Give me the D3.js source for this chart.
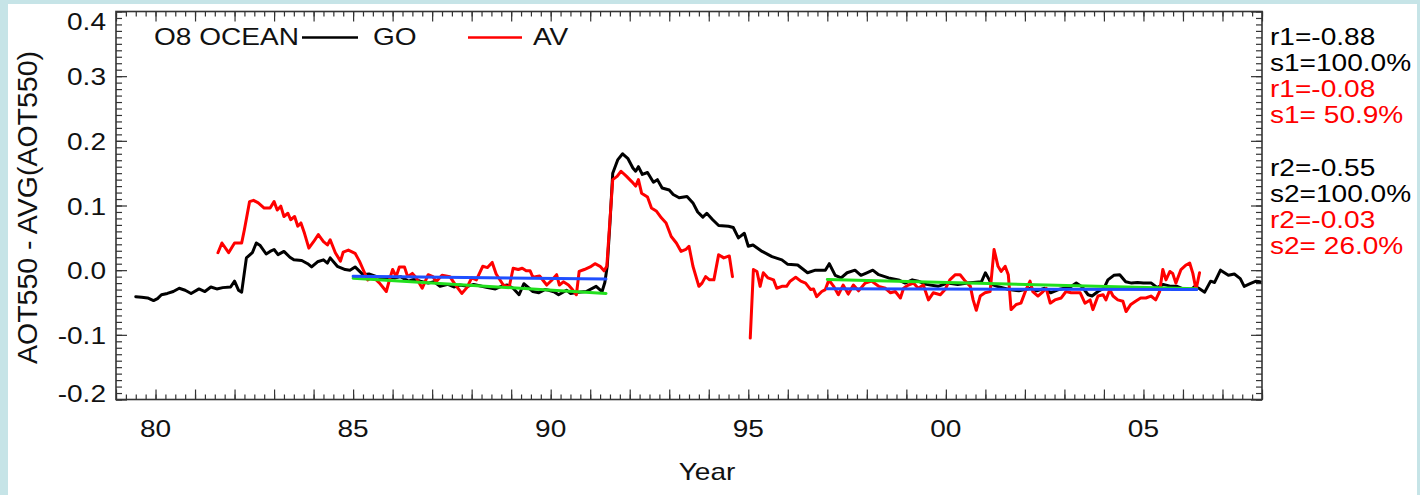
<!DOCTYPE html>
<html>
<head>
<meta charset="utf-8">
<script src="https://cdn.jsdelivr.net/npm/d3@7"></script>
<style>
  html, body { margin: 0; padding: 0; background: #c6e4e7; }
  svg { display: block; }
  text { font-family: "Liberation Sans", Arial, Helvetica, sans-serif; white-space: pre; }
</style>
</head>
<body>
<svg id="chart" width="1420" height="495"></svg>
<script>
// ---------------- DATA ----------------
const goYears = [1979.50,1979.65,1979.80,1979.95,1980.05,1980.15,1980.30,1980.45,1980.60,1980.75,1980.90,1981.10,1981.25,1981.40,1981.55,1981.70,1981.90,1982.00,1982.10,1982.18,1982.30,1982.45,1982.55,1982.65,1982.80,1982.90,1983.00,1983.10,1983.25,1983.40,1983.50,1983.70,1983.85,1983.95,1984.10,1984.25,1984.35,1984.42,1984.60,1984.80,1984.92,1985.05,1985.25,1985.40,1985.60,1985.75,1985.90,1986.05,1986.20,1986.40,1986.55,1986.70,1986.90,1987.05,1987.20,1987.40,1987.55,1987.70,1987.90,1988.05,1988.20,1988.40,1988.60,1988.75,1988.90,1989.05,1989.20,1989.32,1989.55,1989.70,1989.85,1989.95,1990.10,1990.20,1990.40,1990.50,1990.70,1990.90,1991.15,1991.30,1991.37,1991.43,1991.50,1991.57,1991.70,1991.82,1991.95,1992.08,1992.15,1992.22,1992.32,1992.45,1992.60,1992.70,1992.82,1993.00,1993.10,1993.25,1993.45,1993.60,1993.72,1993.85,1993.95,1994.10,1994.25,1994.50,1994.62,1994.75,1994.90,1995.00,1995.12,1995.35,1995.60,1995.85,1996.00,1996.25,1996.50,1996.70,1996.95,1997.05,1997.20,1997.35,1997.50,1997.70,1997.85,1998.00,1998.15,1998.30,1998.55,1998.80,1998.97,1999.15,1999.30,1999.50,1999.80,2000.05,2000.30,2000.55,2000.90,2001.00,2001.10,2001.15,2001.30,2001.60,2001.85,2002.00,2002.15,2002.30,2002.50,2002.65,2002.85,2003.00,2003.15,2003.30,2003.45,2003.60,2003.70,2003.85,2004.00,2004.10,2004.25,2004.40,2004.55,2004.70,2004.85,2005.00,2005.20,2005.35,2005.50,2005.70,2005.85,2006.05,2006.20,2006.30,2006.40,2006.55,2006.70,2006.80,2006.95,2007.15,2007.30,2007.45,2007.55,2007.70,2007.85,2007.95];
const goValues = [-0.041,-0.042,-0.043,-0.047,-0.044,-0.038,-0.036,-0.033,-0.028,-0.031,-0.036,-0.029,-0.033,-0.026,-0.029,-0.027,-0.026,-0.017,-0.031,-0.034,0.019,0.027,0.042,0.038,0.025,0.029,0.032,0.024,0.029,0.020,0.016,0.015,0.010,0.005,0.013,0.016,0.011,0.019,0.006,0.001,0.000,0.005,-0.007,-0.006,-0.010,-0.013,-0.011,-0.012,-0.010,-0.017,-0.014,-0.017,-0.020,-0.018,-0.025,-0.022,-0.026,-0.023,-0.025,-0.022,-0.024,-0.027,-0.029,-0.025,-0.023,-0.028,-0.038,-0.021,-0.033,-0.035,-0.030,-0.031,-0.034,-0.038,-0.031,-0.036,-0.034,-0.033,-0.025,-0.033,-0.019,0.006,0.073,0.150,0.171,0.180,0.173,0.158,0.153,0.160,0.148,0.151,0.136,0.140,0.127,0.124,0.117,0.112,0.114,0.104,0.090,0.082,0.088,0.078,0.069,0.068,0.066,0.050,0.057,0.037,0.039,0.029,0.021,0.016,0.009,0.008,-0.004,0.000,0.000,0.010,-0.008,-0.012,-0.004,0.000,-0.008,-0.004,0.000,-0.007,-0.012,-0.015,-0.020,-0.015,-0.017,-0.022,-0.025,-0.020,-0.022,-0.020,-0.018,-0.004,-0.015,-0.022,-0.025,-0.030,-0.032,-0.030,-0.028,-0.032,-0.028,-0.035,-0.030,-0.028,-0.026,-0.020,-0.026,-0.038,-0.040,-0.033,-0.028,-0.015,-0.008,-0.007,-0.018,-0.020,-0.019,-0.020,-0.020,-0.027,-0.022,-0.025,-0.025,-0.030,-0.030,-0.025,-0.028,-0.034,-0.017,-0.019,0.000,-0.008,-0.006,-0.013,-0.025,-0.021,-0.017,-0.018];

const avYears1 = [1981.58,1981.68,1981.85,1982.00,1982.18,1982.25,1982.38,1982.48,1982.60,1982.75,1982.90,1983.00,1983.08,1983.17,1983.25,1983.35,1983.42,1983.52,1983.60,1983.68,1983.77,1983.88,1984.00,1984.12,1984.25,1984.35,1984.42,1984.55,1984.68,1984.75,1984.88,1985.05,1985.16,1985.29,1985.37,1985.50,1985.67,1985.84,1985.92,1986.00,1986.09,1986.17,1986.30,1986.38,1986.50,1986.60,1986.75,1986.90,1987.02,1987.10,1987.25,1987.45,1987.58,1987.75,1987.88,1988.00,1988.12,1988.28,1988.40,1988.52,1988.62,1988.80,1988.95,1989.05,1989.18,1989.28,1989.38,1989.48,1989.55,1989.72,1989.90,1990.02,1990.15,1990.22,1990.32,1990.45,1990.55,1990.65,1990.72,1990.85,1991.00,1991.12,1991.25,1991.35,1991.42,1991.50,1991.57,1991.68,1991.78,1991.92,1992.05,1992.15,1992.22,1992.30,1992.45,1992.55,1992.68,1992.80,1992.92,1993.05,1993.18,1993.30,1993.42,1993.50,1993.60,1993.75,1993.83,1993.92,1994.02,1994.13,1994.25,1994.38,1994.52,1994.60];
const avValues1 = [0.027,0.042,0.027,0.042,0.042,0.063,0.106,0.108,0.104,0.096,0.096,0.106,0.093,0.099,0.083,0.088,0.078,0.083,0.068,0.073,0.057,0.034,0.044,0.055,0.044,0.039,0.047,0.027,0.014,0.028,0.031,0.026,0.014,-0.004,-0.015,-0.010,-0.020,-0.033,-0.015,0.001,-0.010,0.005,0.005,-0.010,-0.005,-0.012,-0.028,-0.007,-0.010,-0.018,-0.008,-0.010,-0.022,-0.036,-0.027,-0.012,-0.015,0.006,0.004,0.012,-0.006,-0.023,-0.026,0.003,0.001,0.003,-0.001,-0.001,-0.011,-0.009,-0.023,-0.016,-0.007,-0.023,-0.018,-0.023,-0.030,-0.038,-0.002,0.001,0.005,0.010,0.006,-0.001,0.006,0.078,0.140,0.145,0.153,0.145,0.137,0.130,0.140,0.119,0.113,0.096,0.091,0.081,0.073,0.052,0.042,0.029,0.032,0.037,0.006,-0.025,-0.020,-0.010,-0.015,-0.015,0.024,0.019,0.022,-0.010];

const avYears2 = [1995.05,1995.13,1995.22,1995.30,1995.38,1995.50,1995.64,1995.72,1995.85,1995.97,1996.06,1996.20,1996.33,1996.45,1996.58,1996.65,1996.73,1996.86,1996.95,1997.04,1997.16,1997.28,1997.40,1997.53,1997.66,1997.79,1997.96,1998.12,1998.30,1998.47,1998.60,1998.72,1998.85,1998.93,1999.05,1999.18,1999.30,1999.43,1999.56,1999.68,1999.86,1999.98,2000.10,2000.24,2000.36,2000.49,2000.62,2000.69,2000.77,2000.87,2000.99,2001.12,2001.22,2001.32,2001.40,2001.50,2001.58,2001.65,2001.78,2001.90,2002.03,2002.13,2002.20,2002.33,2002.46,2002.54,2002.64,2002.76,2002.92,2003.04,2003.17,2003.30,2003.40,2003.52,2003.65,2003.72,2003.85,2003.98,2004.05,2004.15,2004.23,2004.35,2004.48,2004.56,2004.68,2004.80,2004.93,2005.06,2005.19,2005.31,2005.41,2005.49,2005.57,2005.67,2005.74,2005.82,2005.95,2006.08,2006.17,2006.25,2006.33,2006.42];
const avValues2 = [-0.105,0.001,-0.002,-0.025,-0.004,-0.012,-0.015,-0.028,-0.025,-0.025,-0.017,-0.011,-0.017,-0.020,-0.030,-0.029,-0.041,-0.033,-0.030,-0.015,-0.025,-0.038,-0.023,-0.037,-0.023,-0.032,-0.020,-0.017,-0.025,-0.028,-0.035,-0.033,-0.043,-0.028,-0.023,-0.020,-0.028,-0.023,-0.046,-0.035,-0.038,-0.030,-0.015,-0.007,-0.007,-0.017,-0.025,-0.046,-0.062,-0.040,-0.035,-0.033,0.032,0.006,-0.002,0.006,-0.007,-0.061,-0.053,-0.051,-0.030,-0.017,-0.033,-0.040,-0.033,-0.028,-0.051,-0.046,-0.043,-0.033,-0.035,-0.035,-0.035,-0.051,-0.046,-0.061,-0.040,-0.038,-0.046,-0.030,-0.040,-0.046,-0.048,-0.064,-0.053,-0.048,-0.043,-0.043,-0.040,-0.046,-0.033,0.001,-0.015,-0.002,-0.005,-0.020,0.001,0.008,0.011,-0.005,-0.030,-0.004];

const trendYears1 = [1985.0, 1991.4];
const greenTrend1 = [-0.0125, -0.036];
const blueTrend1  = [-0.0095, -0.0135];
const trendYears2 = [1997.0, 2006.35];
const greenTrend2 = [-0.0145, -0.0288];
const blueTrend2  = [-0.0288, -0.0300];

const xTickYears  = [1980, 1985, 1990, 1995, 2000, 2005];
const xTickLabels = ["80", "85", "90", "95", "00", "05"];
const yTickValues = [-0.2, -0.1, 0.0, 0.1, 0.2, 0.3, 0.4];
const yTickLabels = ["-0.2", "-0.1", "0.0", "0.1", "0.2", "0.3", "0.4"];

const legendTitle = "O8 OCEAN";
const seriesNames = ["GO", "AV"];
const statsLines1 = ["r1=-0.88", "s1=100.0%", "r1=-0.08", "s1= 50.9%"];
const statsLines2 = ["r2=-0.55", "s2=100.0%", "r2=-0.03", "s2= 26.0%"];
const statsColors = ["#000", "#000", "#ff0000", "#ff0000"];

// ---------------- DRAWING ----------------
const SX = 1.22;          // horizontal glyph stretch of the original
const FS = 23;
const svg = d3.select("#chart");

svg.append("rect").attr("x", 0).attr("y", 0).attr("width", 1420).attr("height", 495).attr("fill", "#c6e4e7");
svg.append("rect").attr("x", 8).attr("y", 4).attr("width", 1409).attr("height", 491).attr("fill", "#ffffff");

const L = 116, R = 1262, T = 11.5, B = 399.5;
const x = d3.scaleLinear().domain([1979, 2008]).range([L, R]);
const y = d3.scaleLinear().domain([-0.2, 0.4]).range([B, T]);

function txt(px, py, s, anchor, color, size) {
  return svg.append("text")
    .attr("transform", `translate(${px},${py}) scale(${SX},1)`)
    .attr("text-anchor", anchor || "start")
    .attr("fill", color || "#111")
    .attr("font-size", size || FS)
    .text(s);
}

// ticks
const xMinor = d3.range(0, 117).map(i => 1979 + i * 0.25);
const xMajor = d3.range(1979, 2009);
const yMinor = d3.range(0, 61).map(i => -0.2 + i * 0.01);
const yMajor = yTickValues;

function styleAxis(g) {
  g.select(".domain").remove();
  g.selectAll("line").attr("stroke", "#333").attr("stroke-width", 1.2);
}
svg.append("g").attr("transform", `translate(0,${B})`)
  .call(d3.axisBottom(x).tickValues(xMinor).tickSize(-5).tickFormat("")).call(styleAxis);
svg.append("g").attr("transform", `translate(0,${B})`)
  .call(d3.axisBottom(x).tickValues(xMajor).tickSize(-10).tickFormat("")).call(styleAxis);
svg.append("g").attr("transform", `translate(0,${T})`)
  .call(d3.axisTop(x).tickValues(xMinor).tickSize(-5).tickFormat("")).call(styleAxis);
svg.append("g").attr("transform", `translate(0,${T})`)
  .call(d3.axisTop(x).tickValues(xMajor).tickSize(-10).tickFormat("")).call(styleAxis);
svg.append("g").attr("transform", `translate(${L},0)`)
  .call(d3.axisLeft(y).tickValues(yMinor).tickSize(-6).tickFormat("")).call(styleAxis);
svg.append("g").attr("transform", `translate(${L},0)`)
  .call(d3.axisLeft(y).tickValues(yMajor).tickSize(-11).tickFormat("")).call(styleAxis);
svg.append("g").attr("transform", `translate(${R},0)`)
  .call(d3.axisRight(y).tickValues(yMinor).tickSize(-6).tickFormat("")).call(styleAxis);
svg.append("g").attr("transform", `translate(${R},0)`)
  .call(d3.axisRight(y).tickValues(yMajor).tickSize(-11).tickFormat("")).call(styleAxis);

// frame
svg.append("rect").attr("x", L).attr("y", T).attr("width", R - L).attr("height", B - T)
  .attr("fill", "none").attr("stroke", "#333").attr("stroke-width", 1.6);

// tick labels
xTickYears.forEach((yr, i) => txt(x(yr), 437, xTickLabels[i], "middle"));
yTickValues.forEach((v, i) => {
  const by = Math.max(30, Math.min(402, y(v) + 9));
  txt(L - 10, by, yTickLabels[i], "end");
});

// axis titles
txt(707, 480, "Year", "middle");
svg.append("text")
  .attr("transform", `translate(37,${(T + B) / 2 + 2}) rotate(-90)`)
  .attr("text-anchor", "middle").attr("fill", "#111").attr("font-size", 28.5)
  .text("AOT550 - AVG(AOT550)");

// lines
const line = d3.line().x(d => x(d[0])).y(d => y(d[1]));
function drawSeries(years, values, color, w) {
  svg.append("path").datum(years.map((yr, i) => [yr, values[i]]))
    .attr("d", line).attr("fill", "none").attr("stroke", color)
    .attr("stroke-width", w).attr("stroke-linejoin", "round").attr("stroke-linecap", "round");
}
drawSeries(goYears, goValues, "#000000", 3);
drawSeries(avYears1, avValues1, "#ff0000", 3);
drawSeries(avYears2, avValues2, "#ff0000", 3);
drawSeries(trendYears1, greenTrend1, "#22e01e", 3);
drawSeries(trendYears2, greenTrend2, "#22e01e", 3);
drawSeries(trendYears1, blueTrend1, "#1f4fff", 3);
drawSeries(trendYears2, blueTrend2, "#1f4fff", 3);

// legend
txt(154, 45, legendTitle, "start", "#111");
svg.append("line").attr("x1", 302).attr("x2", 358).attr("y1", 37.5).attr("y2", 37.5)
  .attr("stroke", "#000").attr("stroke-width", 2.5);
txt(373, 45, seriesNames[0], "start", "#111");
svg.append("line").attr("x1", 468).attr("x2", 522).attr("y1", 37.5).attr("y2", 37.5)
  .attr("stroke", "#ff0000").attr("stroke-width", 2.5);
txt(533, 45, seriesNames[1], "start", "#111");

// stats text
const base1 = [45, 71, 97, 123];
const base2 = [176, 202, 228, 254];
statsLines1.forEach((s, i) => txt(1270, base1[i], s, "start", statsColors[i]));
statsLines2.forEach((s, i) => txt(1270, base2[i], s, "start", statsColors[i]));
</script>
</body>
</html>
